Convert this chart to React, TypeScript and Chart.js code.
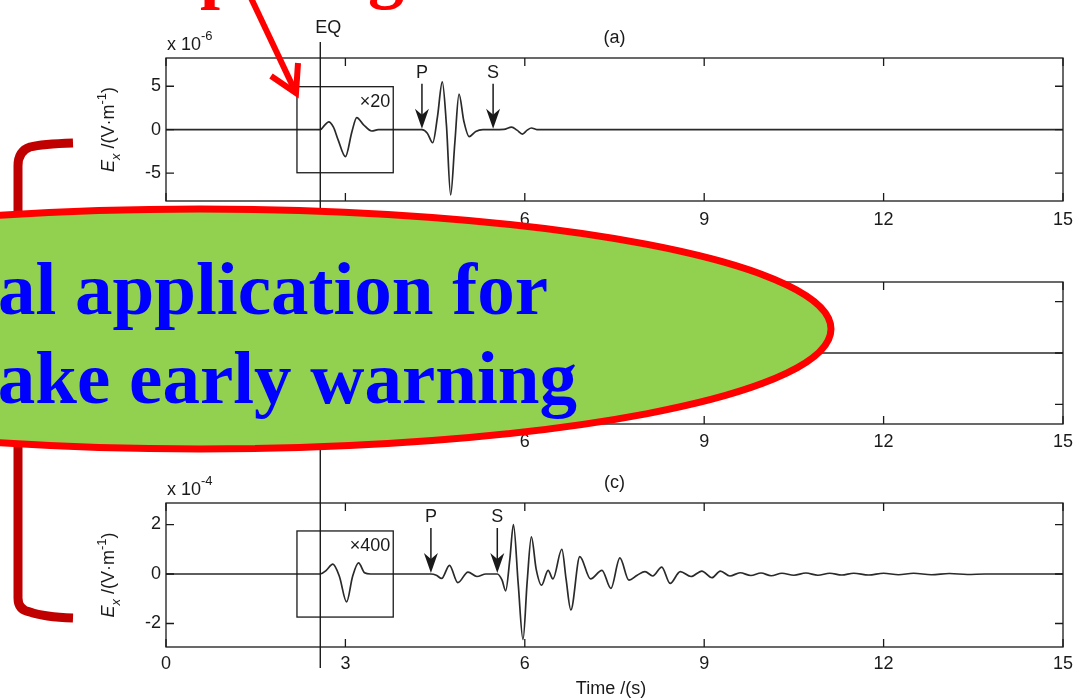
import React, { useEffect, useRef } from "react";
import { Chart, registerables } from "chart.js";

Chart.register(...registerables);

// ---------------- data ----------------
const xTickValues = [0, 3, 6, 9, 12, 15];
const eqTime = 2.58;

// panel (a), units of 1e-6 V/m
const timeA = [0, 2.58, 2.65, 2.72, 2.8, 2.88, 3.0, 3.11, 3.19, 3.3, 3.44, 3.55, 4.28, 4.37, 4.46, 4.54, 4.62, 4.69, 4.76, 4.83, 4.9, 4.98, 5.07, 5.18, 5.3, 5.47, 5.65, 5.78, 5.87, 5.96, 6.04, 6.11, 6.2, 6.3, 15];
const valueA = [0, 0, 0.5, 0.9, 0.3, -1.2, -3.1, -0.2, 1.4, 0.6, -0.15, 0, 0, -0.4, -1.5, 1.5, 5.5, 0.5, -7.5, -1.5, 4.1, 1.0, -0.8, -0.2, 0, 0, 0.03, 0.3, -0.05, -0.5, -0.05, 0.2, 0.02, 0, 0];
const yTicksA = [-5, 0, 5];

// panel (b) (only the flat tail is visible)
const timeB = [0, 15];
const valueB = [0, 0];
const yTicksB = [-1, 0, 1];

// panel (c), units of 1e-4 V/m
const timeC = [0, 2.58, 2.68, 2.79, 2.9, 3.02, 3.12, 3.22, 3.32, 3.42, 4.43, 4.52, 4.61, 4.74, 4.88, 5.05, 5.2, 5.35, 5.54, 5.62, 5.68, 5.75, 5.81, 5.89, 5.97, 6.04, 6.11, 6.19, 6.28, 6.39, 6.47, 6.62, 6.69, 6.77, 6.92, 7.1, 7.29, 7.44, 7.59, 7.74, 7.88, 8.01, 8.14, 8.29, 8.43, 8.6, 8.78, 8.96, 9.13, 9.27, 9.43, 9.6, 9.78, 9.95, 10.12, 10.3, 10.5, 10.7, 10.9, 11.1, 11.3, 11.5, 11.75, 12.0, 12.25, 12.5, 12.8, 13.1, 13.4, 13.7, 15];
const valueC = [0, 0, 0.15, 0.4, -0.1, -1.13, -0.1, 0.45, 0.05, 0, 0, -0.05, -0.18, 0.35, -0.35, 0.08, -0.1, 0, 0, -0.25, -0.68, 0.6, 2.0, -0.4, -2.65, -0.3, 1.5, 0.2, -0.45, 0.15, -0.2, 1.0, -0.2, -1.45, 0.7, -0.2, 0.15, -0.58, 0.65, -0.25, -0.05, 0.1, -0.08, 0.28, -0.38, 0.1, -0.1, 0.12, -0.15, 0.12, -0.08, 0.05, -0.06, 0.04, -0.07, 0.03, -0.05, 0.04, -0.05, 0.03, -0.04, 0.03, -0.04, 0.03, -0.03, 0.03, -0.03, 0.02, -0.02, 0, 0];
const yTicksC = [-2, 0, 2];

const phaseLabels = ["P", "S"];
const phaseTimesA = [4.28, 5.47];
const phaseTimesC = [4.43, 5.54];

const insetTimes = [2.19, 3.8];
const insetHalfA = 4.95;
const insetHalfC = 1.74;
const insetLabelA = "×20";
const insetLabelC = "×400";

// ---------------- style ----------------
const SANS = "'Liberation Sans', Arial, Helvetica, sans-serif";
const SERIF = "'Liberation Serif', 'Times New Roman', serif";
const INK = "#1a1a1a";
const FS = 18;

type PanelDef = {
  top: number;
  height: number;
  padTop: number;
  padBottom: number;
  time: number[];
  values: number[];
  yMin: number;
  yMax: number;
  yTicks: number[];
  xPad: number;
  title?: string;
  exponent?: string;
  phases?: number[];
  insetHalf?: number;
  insetLabel?: string;
  eqFrom: number;
  eqTo: number;
  eqLabel?: boolean;
  timeLabel?: boolean;
  yTitle?: boolean;
};

const panels: PanelDef[] = [
  {
    top: 0, height: 232, padTop: 58, padBottom: 1,
    time: timeA, values: valueA, yMin: -8.2, yMax: 8.25, yTicks: yTicksA, xPad: 8,
    title: "(a)", exponent: "-6", phases: phaseTimesA, insetHalf: insetHalfA, insetLabel: insetLabelA,
    eqFrom: 42, eqTo: 232, eqLabel: true, yTitle: true,
  },
  {
    top: 232, height: 223, padTop: 50, padBottom: 1,
    time: timeB, values: valueB, yMin: -1.38, yMax: 1.38, yTicks: yTicksB, xPad: 7,
    title: "(b)", eqFrom: 0, eqTo: 223, yTitle: true,
  },
  {
    top: 455, height: 243, padTop: 48, padBottom: 21,
    time: timeC, values: valueC, yMin: -2.95, yMax: 2.87, yTicks: yTicksC, xPad: 6,
    title: "(c)", exponent: "-4", phases: phaseTimesC, insetHalf: insetHalfC, insetLabel: insetLabelC,
    eqFrom: 0, eqTo: 213, timeLabel: true, yTitle: true,
  },
];

function drawYTitle(ctx: CanvasRenderingContext2D, cx: number, cy: number) {
  const parts = [
    { t: "E", f: `italic ${FS}px ${SANS}`, dy: 0 },
    { t: "x", f: `italic 13px ${SANS}`, dy: 6 },
    { t: " /(V·m", f: `${FS}px ${SANS}`, dy: 0 },
    { t: "-1", f: `13px ${SANS}`, dy: -8 },
    { t: ")", f: `${FS}px ${SANS}`, dy: 0 },
  ];
  ctx.save();
  ctx.translate(cx, cy);
  ctx.rotate(-Math.PI / 2);
  ctx.textBaseline = "alphabetic";
  ctx.textAlign = "left";
  let total = 0;
  const widths = parts.map((p) => {
    ctx.font = p.f;
    const w = ctx.measureText(p.t).width;
    total += w;
    return w;
  });
  let x = -total / 2;
  parts.forEach((p, i) => {
    ctx.font = p.f;
    ctx.fillText(p.t, x, p.dy);
    x += widths[i];
  });
  ctx.restore();
}

function makeDecor(p: PanelDef) {
  return {
    id: "matlabDecor",
    afterDraw(chart: any) {
      const ctx: CanvasRenderingContext2D = chart.ctx;
      const { left, right, top, bottom } = chart.chartArea;
      const xs = chart.scales.x;
      const ys = chart.scales.y;
      ctx.save();
      ctx.strokeStyle = INK;
      ctx.fillStyle = INK;
      ctx.lineWidth = 1.3;
      ctx.strokeRect(left, top, right - left, bottom - top);

      // inward ticks on all four sides
      ctx.beginPath();
      xs.ticks.forEach((t: any) => {
        const px = xs.getPixelForValue(t.value);
        ctx.moveTo(px, bottom);
        ctx.lineTo(px, bottom - 8);
        ctx.moveTo(px, top);
        ctx.lineTo(px, top + 8);
      });
      ys.ticks.forEach((t: any) => {
        const py = ys.getPixelForValue(t.value);
        ctx.moveTo(left, py);
        ctx.lineTo(left + 8, py);
        ctx.moveTo(right, py);
        ctx.lineTo(right - 8, py);
      });
      ctx.stroke();

      // EQ line
      const ex = xs.getPixelForValue(eqTime);
      ctx.lineWidth = 1.4;
      ctx.beginPath();
      ctx.moveTo(ex, p.eqFrom);
      ctx.lineTo(ex, p.eqTo);
      ctx.stroke();

      ctx.font = `${FS}px ${SANS}`;
      ctx.textBaseline = "middle";
      if (p.eqLabel) {
        ctx.textAlign = "center";
        ctx.fillText("EQ", ex + 8, 28);
      }
      if (p.title) {
        ctx.textAlign = "center";
        ctx.fillText(p.title, (left + right) / 2, top - 20);
      }
      if (p.exponent) {
        ctx.textAlign = "left";
        ctx.textBaseline = "alphabetic";
        ctx.font = `${FS}px ${SANS}`;
        const base = "x 10";
        ctx.fillText(base, left + 1, top - 8);
        const w = ctx.measureText(base).width;
        ctx.font = `13px ${SANS}`;
        ctx.fillText(p.exponent, left + 1 + w, top - 18);
      }
      if (p.yTitle) {
        ctx.fillStyle = INK;
        drawYTitle(ctx, 114, (top + bottom) / 2);
      }

      // inset box
      if (p.insetHalf !== undefined) {
        const x0 = xs.getPixelForValue(insetTimes[0]);
        const x1 = xs.getPixelForValue(insetTimes[1]);
        const y0 = ys.getPixelForValue(p.insetHalf);
        const y1 = ys.getPixelForValue(-p.insetHalf);
        ctx.lineWidth = 1.3;
        ctx.strokeRect(x0, y0, x1 - x0, y1 - y0);
        ctx.font = `${FS}px ${SANS}`;
        ctx.textAlign = "right";
        ctx.textBaseline = "middle";
        ctx.fillText(p.insetLabel || "", x1 - 3, y0 + 15);
      }

      // phase arrows
      if (p.phases) {
        const zero = ys.getPixelForValue(0);
        p.phases.forEach((t, i) => {
          const px = xs.getPixelForValue(t);
          ctx.font = `${FS}px ${SANS}`;
          ctx.textAlign = "center";
          ctx.textBaseline = "middle";
          ctx.fillText(phaseLabels[i], px, zero - 57);
          ctx.lineWidth = 1.5;
          ctx.beginPath();
          ctx.moveTo(px, zero - 46);
          ctx.lineTo(px, zero - 12);
          ctx.stroke();
          ctx.beginPath();
          ctx.moveTo(px, zero - 1);
          ctx.lineTo(px - 7, zero - 21);
          ctx.lineTo(px, zero - 15);
          ctx.lineTo(px + 7, zero - 21);
          ctx.closePath();
          ctx.fill();
        });
      }

      if (p.timeLabel) {
        ctx.font = `${FS}px ${SANS}`;
        ctx.textAlign = "center";
        ctx.textBaseline = "middle";
        ctx.fillText("Time /(s)", 611, 234);
      }
      ctx.restore();
    },
  };
}

function Panel({ def }: { def: PanelDef }) {
  const ref = useRef<HTMLCanvasElement>(null);
  useEffect(() => {
    const canvas = ref.current;
    if (!canvas) return;
    const tickFont = { family: SANS, size: FS };
    const chart = new Chart(canvas, {
      type: "line",
      data: {
        datasets: [
          {
            data: def.time.map((t, i) => ({ x: t, y: def.values[i] })),
            borderColor: "#2a2a2a",
            borderWidth: 1.7,
            pointRadius: 0,
            fill: false,
            cubicInterpolationMode: "monotone",
          },
        ],
      },
      options: {
        responsive: false,
        maintainAspectRatio: false,
        animation: false,
        devicePixelRatio: 1,
        layout: { padding: { left: 106, right: 26, top: def.padTop, bottom: def.padBottom } },
        plugins: { legend: { display: false }, title: { display: false }, tooltip: { enabled: false } },
        events: [],
        scales: {
          x: {
            type: "linear",
            min: 0,
            max: 15,
            grid: { display: false, drawTicks: false },
            border: { display: false },
            afterBuildTicks: (s: any) => {
              s.ticks = xTickValues.map((v) => ({ value: v }));
            },
            afterFit: (s: any) => {
              s.height = 30;
              s.paddingLeft = 0;
              s.paddingRight = 0;
            },
            ticks: {
              autoSkip: false,
              maxRotation: 0,
              padding: def.xPad,
              color: INK,
              font: tickFont,
              callback: (v: any) => String(v),
            },
          },
          y: {
            type: "linear",
            min: def.yMin,
            max: def.yMax,
            grid: { display: false, drawTicks: false },
            border: { display: false },
            afterBuildTicks: (s: any) => {
              s.ticks = def.yTicks.map((v) => ({ value: v }));
            },
            afterFit: (s: any) => {
              s.width = 60;
              s.paddingTop = 0;
              s.paddingBottom = 0;
            },
            ticks: {
              padding: 5,
              color: INK,
              font: tickFont,
              callback: (v: any) => String(v),
            },
          },
        },
      },
      plugins: [makeDecor(def)],
    } as any);
    return () => chart.destroy();
  }, [def]);
  return (
    <canvas
      ref={ref}
      width={1089}
      height={def.height}
      style={{ position: "absolute", left: 0, top: def.top, width: 1089, height: def.height, display: "block" }}
    />
  );
}

function Overlay() {
  // slide annotations drawn on top of the figure
  const tip = { x: 296, y: 93 };
  return (
    <svg
      width={1089}
      height={698}
      style={{ position: "absolute", left: 0, top: 0, pointerEvents: "none" }}
    >
      <path
        d="M 73 143 Q 42 144 30 147 Q 18 151 18 166 L 18 598 Q 18 610 30 612 Q 44 617 73 618"
        fill="none"
        stroke="#c00000"
        strokeWidth={9}
      />
      <ellipse cx={200} cy={329} rx={631} ry={120} fill="#92d050" stroke="#ff0000" strokeWidth={7} />
      <text x={548} y={314} textAnchor="end" fontFamily={SERIF} fontWeight="bold" fontSize={75} fill="#0000ff">
        Potential application for
      </text>
      <text x={577} y={403} textAnchor="end" fontFamily={SERIF} fontWeight="bold" fontSize={75} fill="#0000ff">
        earthquake early warning
      </text>
      <text x={52} y={-5} fontFamily={SERIF} fontWeight="bold" fontSize={72} fill="#ff0000">
        Comparing
      </text>
      <line x1={251} y1={-2} x2={tip.x} y2={tip.y} stroke="#ff0000" strokeWidth={6} />
      <polyline
        points={`${tip.x - 25},${tip.y - 17} ${tip.x},${tip.y} ${tip.x + 2},${tip.y - 30}`}
        fill="none"
        stroke="#ff0000"
        strokeWidth={6}
        strokeLinejoin="miter"
      />
    </svg>
  );
}

export default function App() {
  return (
    <div
      style={{
        position: "absolute",
        left: 0,
        top: 0,
        width: 1089,
        height: 698,
        overflow: "hidden",
        background: "#ffffff",
      }}
    >
      {panels.map((d, i) => (
        <Panel key={i} def={d} />
      ))}
      <Overlay />
    </div>
  );
}
